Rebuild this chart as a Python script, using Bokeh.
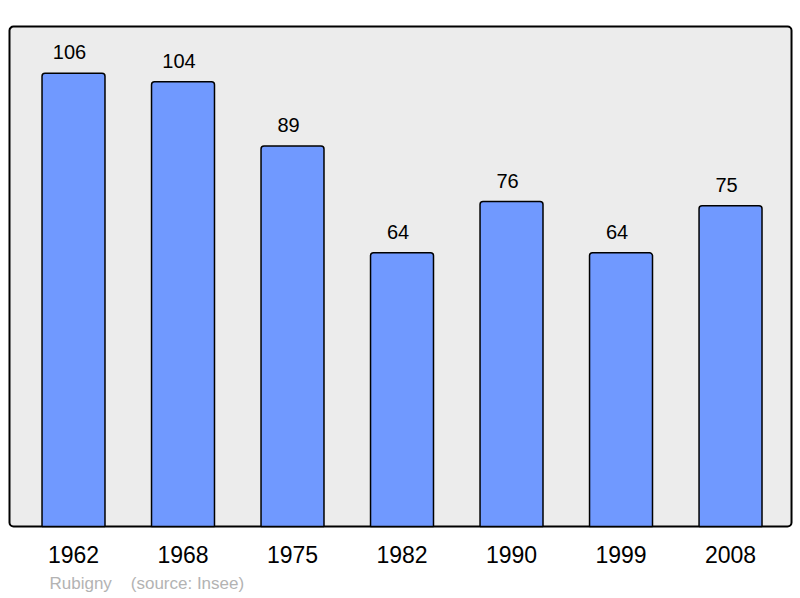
from bokeh.plotting import figure
from bokeh.models import Range1d, FixedTicker, BoxAnnotation, Title, ColumnDataSource
from bokeh.core.properties import value
from bokeh.embed import file_html
from bokeh.resources import INLINE

years = ["1962", "1968", "1975", "1982", "1990", "1999", "2008"]
population = [106, 104, 89, 64, 76, 64, 75]
source_text = "Rubigny\u00a0\u00a0\u00a0\u00a0(source: Insee)"

idx = list(range(len(years)))
src = ColumnDataSource(dict(x=idx, top=population, label=[str(v) for v in population]))

FONT = "Liberation Sans"
n = len(years)

p = figure(width=800, height=598,
           x_range=Range1d(-0.6667, n - 1 + 0.639),
           y_range=Range1d(-0.466, 118.8),
           output_backend="svg", toolbar_location=None,
           y_axis_location=None,
           min_border_left=0, min_border_right=0, min_border_top=18, min_border_bottom=68)
p.title = None
p.outline_line_color = None
p.background_fill_color = "white"
p.border_fill_color = "white"
p.xgrid.visible = False
p.ygrid.visible = False

frame = BoxAnnotation(left=-0.5845, right=n - 1 + 0.557, bottom=0, top=116.9,
                      fill_color="#ececec", fill_alpha=1.0,
                      line_color="black", line_alpha=1.0, line_width=2, border_radius=4,
                      level="underlay")
p.add_layout(frame)

p.vbar(x="x", top="top", bottom=0, width=0.575, source=src,
       fill_color="#7099ff", line_color="black", line_width=1.5,
       border_radius=(3, 3, 0, 0))

p.text(x="x", y="top", text="label", source=src, x_offset=-4, y_offset=-21,
       text_align="center", text_baseline="alphabetic",
       text_font=value(FONT), text_font_size="20px", text_color="black")

ax = p.xaxis[0]
ax.ticker = FixedTicker(ticks=idx)
ax.major_label_overrides = {i: y for i, y in zip(idx, years)}
ax.axis_line_color = None
ax.major_tick_line_color = None
ax.minor_tick_line_color = None
ax.major_tick_in = 0
ax.major_tick_out = 0
ax.major_label_standoff = 17
ax.major_label_text_font = FONT
ax.major_label_text_font_size = "23px"
ax.major_label_text_color = "black"

p.add_layout(Title(text=source_text, align="left", text_font=FONT,
                   text_font_size="17px", text_color="#b3b3b3",
                   text_font_style="normal", offset=49, standoff=12), "below")

open("out.html", "w").write(file_html(p, INLINE))
